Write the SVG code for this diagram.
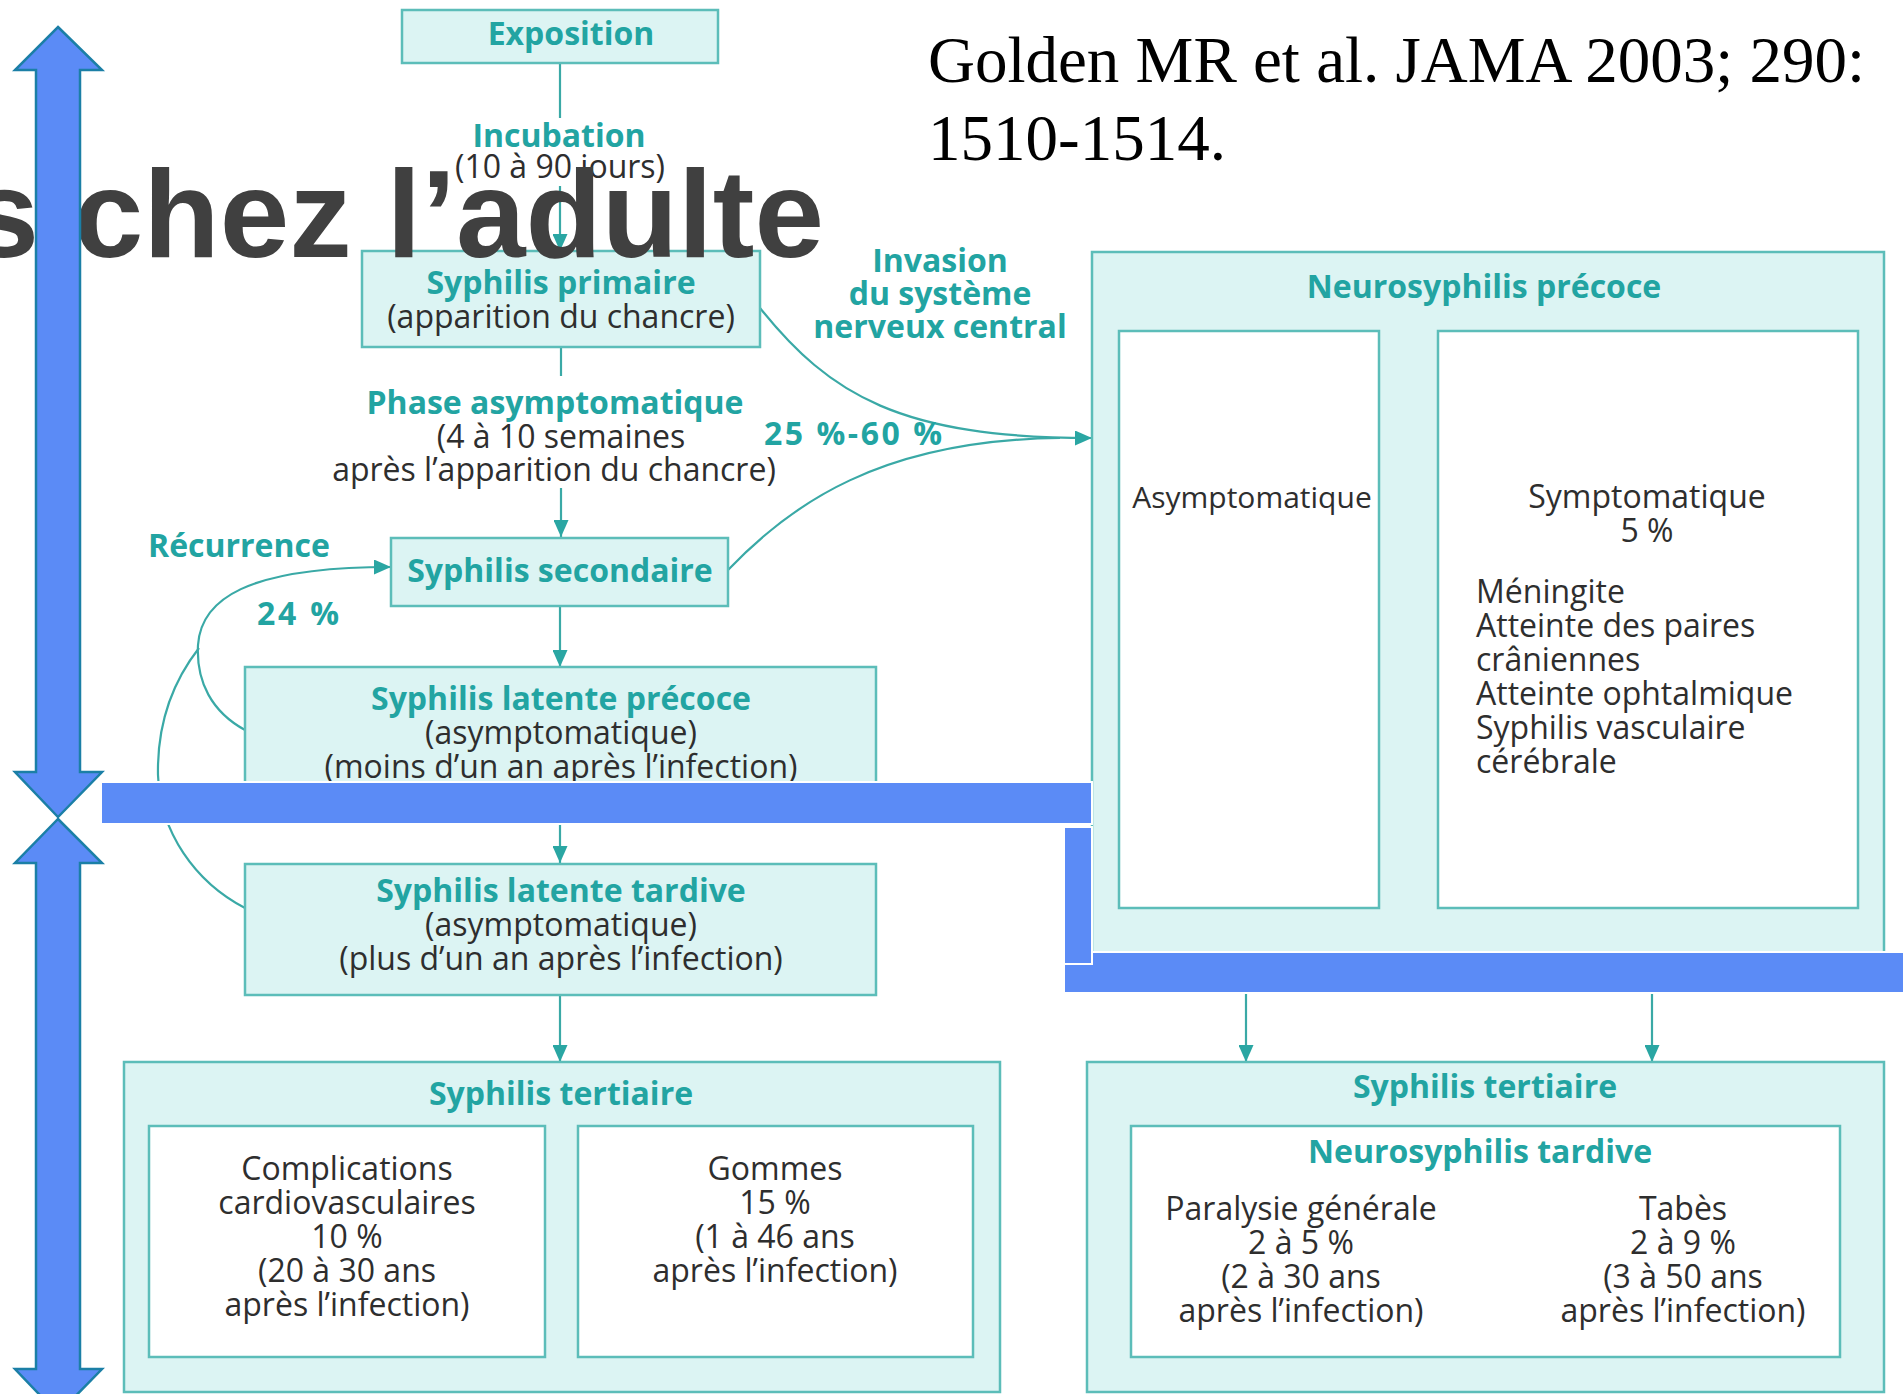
<svg xmlns="http://www.w3.org/2000/svg" width="1903" height="1394" viewBox="0 0 1903 1394">
<defs>
<style>
.box{fill:#dcf4f3;stroke:#5cbdb9;stroke-width:2.5}
.inner{fill:#ffffff;stroke:#5cbdb9;stroke-width:2.5}
.t{font-family:"Open Sans","Noto Sans",sans-serif;font-size:32px;fill:#2e2e2e;text-anchor:middle}
.b{font-family:"Open Sans","Noto Sans",sans-serif;font-size:32px;font-weight:700;fill:#22a4a2;text-anchor:middle}
.l{text-anchor:start}
.ln{fill:none;stroke:#3aa9a6;stroke-width:2.2}
.blue{fill:#5b8bf6;stroke:#ffffff;stroke-width:2}
.barrow{fill:#5b8bf6;stroke:#1b7fa6;stroke-width:2.5}
</style>
<marker id="ah" markerUnits="userSpaceOnUse" markerWidth="17" markerHeight="15" refX="17" refY="7.5" orient="auto"><path d="M0,0 L17,7.5 L0,15 z" fill="#2aa6a3"/></marker>
</defs>
<rect width="1903" height="1394" fill="#ffffff"/>

<g id="connectors">
<path class="ln" d="M560 63 V118"/>
<path class="ln" d="M560 186 V251" marker-end="url(#ah)"/>
<path class="ln" d="M561 347 V376"/>
<path class="ln" d="M561 488 V537" marker-end="url(#ah)"/>
<path class="ln" d="M560 606 V667" marker-end="url(#ah)"/>
<path class="ln" d="M560 800 V863" marker-end="url(#ah)"/>
<path class="ln" d="M560 995 V1062" marker-end="url(#ah)"/>
<path class="ln" d="M760 308 C830 395, 900 438, 1092 438" marker-end="url(#ah)"/>
<path class="ln" d="M728 570 C790 505, 880 440, 1060 438"/>
<path class="ln" d="M245 730 C212 712, 196 682, 198 645 C201 600, 245 567, 391 567" marker-end="url(#ah)"/>
<path class="ln" d="M245 908 C195 882, 160 832, 158 775 C157 722, 174 680, 199 648"/>
<path class="ln" d="M1379 497 H1438" marker-end="url(#ah)"/>
<path class="ln" d="M1246 908 V1062" marker-end="url(#ah)"/>
<path class="ln" d="M1652 908 V1062" marker-end="url(#ah)"/>
</g>

<g id="exposition">
<rect class="box" x="402" y="10" width="316" height="53"/>
<text class="b" x="571" y="45">Exposition</text>
</g>

<g id="incubation">
<text class="b" x="559" y="147">Incubation</text>
<text class="t" x="560" y="178">(10 à 90 jours)</text>
</g>

<g id="syphilis-primaire">
<rect class="box" x="362" y="251" width="398" height="96"/>
<text class="b" x="561" y="294">Syphilis primaire</text>
<text class="t" x="561" y="328">(apparition du chancre)</text>
</g>

<g id="phase-asymptomatique">
<text class="b" x="555" y="414">Phase asymptomatique</text>
<text class="t" x="561" y="448">(4 à 10 semaines</text>
<text class="t" x="554" y="481">après l’apparition du chancre)</text>
</g>

<g id="label-25-60">
<text class="b l" x="764" y="445" textLength="178" lengthAdjust="spacing">25 %-60 %</text>
</g>

<g id="invasion">
<text class="b" x="940" y="272">Invasion</text>
<text class="b" x="940" y="305">du système</text>
<text class="b" x="940" y="338">nerveux central</text>
</g>

<g id="recurrence">
<text class="b l" x="148" y="557">Récurrence</text>
<text class="b l" x="257" y="625" textLength="82" lengthAdjust="spacing">24 %</text>
</g>

<g id="syphilis-secondaire">
<rect class="box" x="391" y="538" width="337" height="68"/>
<text class="b" x="560" y="582">Syphilis secondaire</text>
</g>

<g id="latente-precoce">
<rect class="box" x="245" y="667" width="631" height="135"/>
<text class="b" x="561" y="710">Syphilis latente précoce</text>
<text class="t" x="561" y="744">(asymptomatique)</text>
<text class="t" x="561" y="778">(moins d’un an après l’infection)</text>
</g>

<g id="latente-tardive">
<rect class="box" x="245" y="864" width="631" height="131"/>
<text class="b" x="561" y="902">Syphilis latente tardive</text>
<text class="t" x="561" y="936">(asymptomatique)</text>
<text class="t" x="561" y="970">(plus d’un an après l’infection)</text>
</g>

<g id="tertiaire-gauche">
<rect class="box" x="124" y="1062" width="876" height="330"/>
<text class="b" x="561" y="1105">Syphilis tertiaire</text>
<rect class="inner" x="149" y="1126" width="396" height="231"/>
<text class="t" x="347" y="1180">Complications</text>
<text class="t" x="347" y="1214">cardiovasculaires</text>
<text class="t" x="347" y="1248">10 %</text>
<text class="t" x="347" y="1282">(20 à 30 ans</text>
<text class="t" x="347" y="1316">après l’infection)</text>
<rect class="inner" x="578" y="1126" width="395" height="231"/>
<text class="t" x="775" y="1180">Gommes</text>
<text class="t" x="775" y="1214">15 %</text>
<text class="t" x="775" y="1248">(1 à 46 ans</text>
<text class="t" x="775" y="1282">après l’infection)</text>
</g>

<g id="neurosyphilis-precoce">
<rect class="box" x="1092" y="252" width="792" height="720"/>
<text class="b" x="1484" y="298">Neurosyphilis précoce</text>
<rect class="inner" x="1119" y="331" width="260" height="577"/>
<text class="t" x="1252" y="508" style="font-size:30px">Asymptomatique</text>
<rect class="inner" x="1438" y="331" width="420" height="577"/>
<text class="t" x="1647" y="508">Symptomatique</text>
<text class="t" x="1647" y="542">5 %</text>
<text class="t l" x="1476" y="603">Méningite</text>
<text class="t l" x="1476" y="637">Atteinte des paires</text>
<text class="t l" x="1476" y="671">crâniennes</text>
<text class="t l" x="1476" y="705">Atteinte ophtalmique</text>
<text class="t l" x="1476" y="739">Syphilis vasculaire</text>
<text class="t l" x="1476" y="773">cérébrale</text>
</g>

<g id="tertiaire-droite">
<rect class="box" x="1087" y="1062" width="797" height="330"/>
<text class="b" x="1485" y="1098">Syphilis tertiaire</text>
<rect class="inner" x="1131" y="1126" width="709" height="231"/>
<text class="b" x="1480" y="1163">Neurosyphilis tardive</text>
<text class="t" x="1301" y="1220">Paralysie générale</text>
<text class="t" x="1301" y="1254">2 à 5 %</text>
<text class="t" x="1301" y="1288">(2 à 30 ans</text>
<text class="t" x="1301" y="1322">après l’infection)</text>
<text class="t" x="1683" y="1220">Tabès</text>
<text class="t" x="1683" y="1254">2 à 9 %</text>
<text class="t" x="1683" y="1288">(3 à 50 ans</text>
<text class="t" x="1683" y="1322">après l’infection)</text>
</g>

<g id="citation">
<text x="928" y="82" font-family="'Liberation Serif',serif" font-size="65" fill="#000000">Golden MR et al. JAMA 2003; 290:</text>
<text x="928" y="160" font-family="'Liberation Serif',serif" font-size="65" fill="#000000">1510-1514.</text>
</g>

<g id="title">
<text x="824" y="257" text-anchor="end" font-family="'Liberation Sans',Arial,sans-serif" font-weight="700" font-size="125" fill="#404040">s chez l’adulte</text>
</g>

<g id="blue-overlay">
<rect class="blue" x="1064" y="952" width="845" height="41"/>
<rect class="blue" x="1064" y="827" width="28" height="137"/>
<rect class="blue" x="101" y="782" width="991" height="42"/>
<polygon class="barrow" points="58,27 102,70 80,70 80,772 102,772 58,817 15,772 36,772 36,70 15,70"/>
<polygon class="barrow" points="58,819 102,863 80,863 80,1369 102,1369 58,1414 15,1369 36,1369 36,863 15,863"/>
</g>
</svg>
